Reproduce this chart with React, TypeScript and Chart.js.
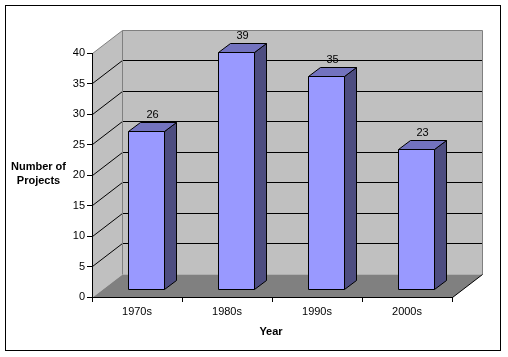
import React, { useEffect, useRef } from 'react';
import { Chart, registerables } from 'chart.js';

Chart.register(...registerables);

const categories = ['1970s', '1980s', '1990s', '2000s'];
const projectCounts = [26, 39, 35, 23];
const yMin = 0;
const yMax = 40;
const yStep = 5;
const yTitleLines = ['Number of', 'Projects'];
const xTitle = 'Year';

const FONT = '"Liberation Sans", Arial, Helvetica, sans-serif';
const DX = 30; // depth offset of back wall
const DY = 23;
const BAR_FRONT = 0.3; // fraction of depth where bar front sits
const BAR_DEPTH = 0.4; // fraction of depth of bar

const al = (p: number) => Math.round(p - 0.5) + 0.5;

function poly(ctx: CanvasRenderingContext2D, pts: number[][], fill?: string, stroke?: string) {
  ctx.beginPath();
  ctx.moveTo(pts[0][0], pts[0][1]);
  for (let i = 1; i < pts.length; i++) ctx.lineTo(pts[i][0], pts[i][1]);
  ctx.closePath();
  if (fill) {
    ctx.fillStyle = fill;
    ctx.fill();
  }
  if (stroke) {
    ctx.strokeStyle = stroke;
    ctx.lineWidth = 1;
    ctx.stroke();
  }
}

function line(ctx: CanvasRenderingContext2D, pts: number[][], color: string) {
  ctx.beginPath();
  ctx.moveTo(pts[0][0], pts[0][1]);
  for (let i = 1; i < pts.length; i++) ctx.lineTo(pts[i][0], pts[i][1]);
  ctx.strokeStyle = color;
  ctx.lineWidth = 1;
  ctx.stroke();
}

const threeDPlugin = {
  id: 'threeD',
  beforeDraw(chart: any) {
    const { ctx, chartArea: a, scales } = chart;
    const y = scales.y;
    ctx.save();
    ctx.fillStyle = '#ffffff';
    ctx.fillRect(0, 0, chart.width, chart.height);
    ctx.strokeStyle = '#000000';
    ctx.lineWidth = 1;
    ctx.strokeRect(5.5, 5.5, 495, 345);

    const L = al(a.left);
    const R = al(a.right);
    const T = al(y.getPixelForValue(yMax));
    const B = al(y.getPixelForValue(yMin));

    // left wall
    poly(ctx, [[L, T], [L + DX, T - DY], [L + DX, B - DY], [L, B]], '#c0c0c0');
    // back wall
    poly(ctx, [[L + DX, T - DY], [R + DX, T - DY], [R + DX, B - DY], [L + DX, B - DY]], '#c0c0c0');
    // floor
    poly(ctx, [[L, B], [L + DX, B - DY], [R + DX, B - DY], [R, B]], '#808080');

    // gridlines
    for (let v = yMin + yStep; v < yMax; v += yStep) {
      const py = al(y.getPixelForValue(v));
      line(ctx, [[L, py], [L + DX, py - DY], [R + DX, py - DY]], '#000000');
    }
    // wall edges
    line(ctx, [[L, T], [L + DX, T - DY], [R + DX, T - DY], [R + DX, B - DY]], '#808080');
    line(ctx, [[L + DX, T - DY], [L + DX, B - DY]], '#808080');
    // floor right edge
    line(ctx, [[R, B], [R + DX, B - DY]], '#000000');
    ctx.restore();
  },
  afterDatasetsDraw(chart: any) {
    const { ctx } = chart;
    const meta = chart.getDatasetMeta(0);
    const data = chart.data.datasets[0].data as number[];
    ctx.save();
    meta.data.forEach((bar: any, i: number) => {
      const p = bar.getProps(['x', 'y', 'base', 'width'], true);
      const fx = p.x + DX * BAR_FRONT;
      const fdy = DY * BAR_FRONT;
      const x0 = al(fx - p.width / 2);
      const x1 = al(fx + p.width / 2);
      const top = al(p.y - fdy);
      const bot = al(p.base - fdy);
      const ddx = Math.round(DX * BAR_DEPTH);
      const ddy = Math.round(DY * BAR_DEPTH);
      // side
      poly(ctx, [[x1, top], [x1 + ddx, top - ddy], [x1 + ddx, bot - ddy], [x1, bot]], '#4d4d80', '#000000');
      // top
      poly(ctx, [[x0, top], [x0 + ddx, top - ddy], [x1 + ddx, top - ddy], [x1, top]], '#7373bf', '#000000');
      // front
      poly(ctx, [[x0, top], [x1, top], [x1, bot], [x0, bot]], '#9999ff', '#000000');
      // value label
      ctx.fillStyle = '#000000';
      ctx.font = `11px ${FONT}`;
      ctx.textAlign = 'center';
      ctx.textBaseline = 'middle';
      ctx.fillText(String(data[i]), (x0 + x1) / 2 + ddx / 2, top - ddy - 8);
    });
    ctx.restore();
  },
  afterDraw(chart: any) {
    const { ctx, chartArea: a } = chart;
    ctx.save();
    ctx.fillStyle = '#000000';
    ctx.font = `bold 11px ${FONT}`;
    ctx.textAlign = 'center';
    ctx.textBaseline = 'middle';
    yTitleLines.forEach((t, i) => ctx.fillText(t, 38.5, 167 + i * 14));
    ctx.fillText(xTitle, (a.left + a.right) / 2 - 1, 332);
    ctx.restore();
  },
};

export default function App() {
  const ref = useRef<HTMLCanvasElement | null>(null);
  useEffect(() => {
    document.body.style.margin = '0';
    if (!ref.current) return;
    Chart.defaults.font.family = FONT;
    const chart = new Chart(ref.current, {
      type: 'bar',
      data: {
        labels: categories,
        datasets: [
          {
            data: projectCounts,
            backgroundColor: 'rgba(0,0,0,0)',
            borderWidth: 0,
            barPercentage: 0.4,
            categoryPercentage: 1,
          },
        ],
      },
      options: {
        responsive: false,
        animation: false,
        devicePixelRatio: 1,
        layout: { padding: { left: 0, right: 56, top: 53, bottom: 0 } },
        plugins: { legend: { display: false }, tooltip: { enabled: false } },
        scales: {
          x: {
            afterFit: (s: any) => {
              s.height = 60;
            },
            grid: { display: true, drawOnChartArea: false, drawTicks: true, tickLength: 5, color: '#000000', offset: true },
            border: { display: true, color: '#000000' },
            ticks: { color: '#000000', font: { size: 11, family: FONT }, padding: 3 },
          },
          y: {
            min: yMin,
            max: yMax,
            afterFit: (s: any) => {
              s.width = 92;
            },
            grid: { display: true, drawOnChartArea: false, drawTicks: true, tickLength: 5, color: '#000000' },
            border: { display: true, color: '#000000' },
            ticks: { stepSize: yStep, color: '#000000', font: { size: 11, family: FONT }, padding: 2 },
          },
        },
      },
      plugins: [threeDPlugin],
    });
    return () => chart.destroy();
  }, []);
  return (
    <div style={{ position: 'absolute', left: 0, top: 0, width: 508, height: 357 }}>
      <canvas ref={ref} width={508} height={357} />
    </div>
  );
}
